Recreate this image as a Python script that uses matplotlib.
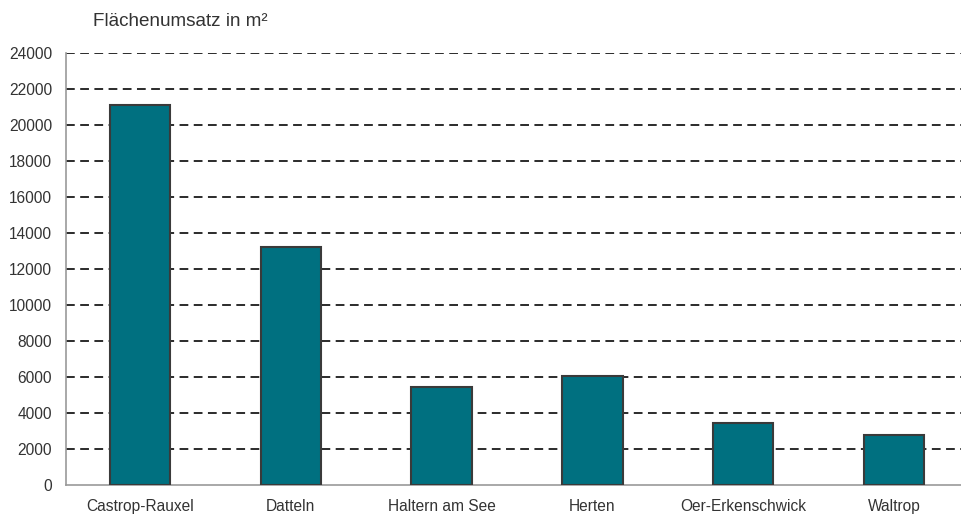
import matplotlib.pyplot as plt
import numpy as np

plt.rcParams['font.family'] = ['Liberation Sans', 'DejaVu Sans']

staedte = ["Castrop-Rauxel", "Datteln", "Haltern am See", "Herten",
           "Oer-Erkenschwick", "Waltrop"]
flaeche = [21100, 13200, 5450, 6050, 3450, 2800]
y_ticks = list(range(0, 24001, 2000))

fig = plt.figure(figsize=(9.62, 5.18), dpi=100)
ax = fig.add_axes([0.0686, 0.0637, 0.9314, 0.834])

x = np.arange(len(staedte))
ax.bar(x, flaeche, width=0.4, color="#007080", edgecolor="#3a3a3a",
       linewidth=1.5, zorder=3)

ax.set_ylim(0, 24000)
ax.set_xlim(-0.49, 5.45)
ax.set_yticks(y_ticks)
ax.set_yticklabels([str(v) for v in y_ticks], fontsize=11.2, color="#333333")
ax.set_xticks(x)
ax.set_xticklabels(staedte, fontsize=11.2, color="#333333")
ax.tick_params(axis="both", length=0)
ax.tick_params(axis="x", pad=10)
ax.tick_params(axis="y", pad=10)

for v in y_ticks[1:]:
    ax.axhline(v, color="#2b2b2b", linewidth=1.4, linestyle=(0, (4.5, 2.8)),
               zorder=1)

for s in ["top", "right"]:
    ax.spines[s].set_visible(False)
ax.spines["left"].set_color("#999999")
ax.spines["bottom"].set_color("#999999")
ax.spines["left"].set_linewidth(1.2)
ax.spines["bottom"].set_linewidth(1.2)

fig.text(0.0967, 1 - 22 / 518, "Flächenumsatz in m²", fontsize=13.6,
         color="#333333", va="center", ha="left")

fig.savefig("out.png", dpi=100)
